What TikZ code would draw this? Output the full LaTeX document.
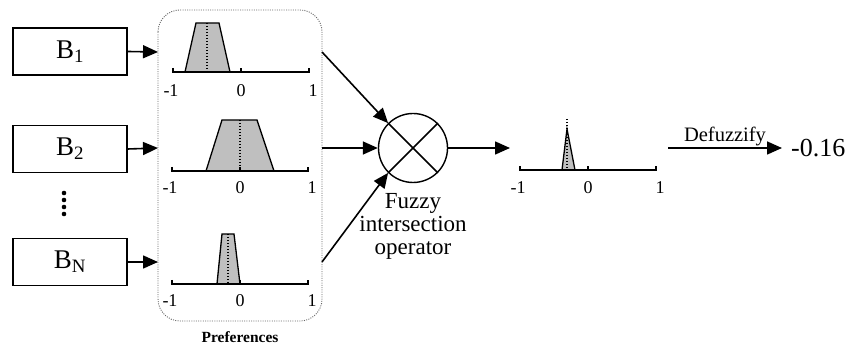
\documentclass[tikz,border=0pt]{standalone}
\usepackage{fontspec}
\setmainfont{Liberation Serif}
\usetikzlibrary{arrows.meta}

% x0 = position of -1, y = axis height, ly = label height
\newcommand\fzaxis[3]{%
  \draw[axisline] (#1,{#2-4}) -- (#1,#2) -- ({#1+136},#2) -- ({#1+136},{#2-4});
  \draw[axisline] ({#1+68},#2) -- ({#1+68},{#2-4});
  \node[ticklabel] at ({#1-2},#3) {-1};
  \node[ticklabel] at ({#1+68},#3) {0};
  \node[ticklabel] at ({#1+140},#3) {1};
}

\begin{document}
\begin{tikzpicture}[x=1pt,y=-1pt,
  inbox/.style={draw, line width=1.4pt, minimum width=114pt, minimum height=47pt,
    inner sep=0pt, font=\fontsize{27}{30}\selectfont},
  flow/.style={line width=1.6pt, -{Triangle[length=15pt,width=13pt]}},
  axisline/.style={line width=1.6pt},
  mf/.style={draw, fill=black!25, line width=1.3pt, line join=miter},
  peak/.style={line width=1.3pt, dash pattern=on 1.3pt off 1.7pt},
  ticklabel/.style={inner sep=0pt, font=\fontsize{18}{20}\selectfont},
  frame/.style={draw=black!60, line width=0.9pt, dash pattern=on 1pt off 1.3pt, rounded corners=22pt}
]
\useasboundingbox (0,0) rectangle (846,352);

% input boxes
\node[inbox] (b1) at (70,51.5) {B\textsubscript{1}};
\node[inbox] (b2) at (70,149) {B\textsubscript{2}};
\node[inbox] (bn) at (70,262) {B\textsubscript{N}};
\foreach \yy in {193,200,207,214} \fill (64,\yy) circle (2.3pt);

% preference panel frame
\draw[frame] (158,10) rectangle (322,321);
\coordinate (in1) at (158,52);
\coordinate (in2) at (158,148);
\coordinate (inn) at (158,262);
\coordinate (out1) at (322,52);
\coordinate (out2) at (322,148);
\coordinate (outn) at (322,262);

% membership functions of the preferences
\draw[mf] (185,72) -- (196,23) -- (219,23) -- (230,72) -- cycle;
\draw[peak] (207,23) -- (207,72);
\fzaxis{173}{72}{91}

\draw[mf] (206,171) -- (222,120) -- (257,120) -- (274,171) -- cycle;
\draw[peak] (240,120) -- (240,171);
\fzaxis{172}{171}{188}

\draw[mf] (217,284) -- (222,234) -- (234,234) -- (240,284) -- cycle;
\draw[peak] (228,234) -- (228,284);
\fzaxis{172}{284}{301}

\node[font=\bfseries\fontsize{15.5}{18}\selectfont] (pref) at (240,337) {Preferences};

% intersection operator
\node[draw, circle, line width=1.4pt, minimum size=69pt, inner sep=0pt] (op) at (413,148) {};
\draw[line width=1.6pt] (op.45) -- (op.225) (op.135) -- (op.315);
\node[align=center, font=\fontsize{23}{23}\selectfont, anchor=north, inner sep=0pt] (oplabel) at (413,193)
  {Fuzzy\\intersection\\operator};

% resulting fuzzy set
\draw[mf] (562,170) -- (567,129) -- (575,170) -- cycle;
\draw[peak] (567,119) -- (567,170);
\fzaxis{520}{170}{188}
\coordinate (res) at (510,148);
\coordinate (dfa) at (668,148);
\coordinate (dfb) at (782,148);
\node[font=\fontsize{26}{28}\selectfont, anchor=west, inner sep=0pt] (val) at (791,148) {-0.16};

% connectors
\draw[flow] (b1.east) -- (in1);
\draw[flow] (b2.east) -- (in2);
\draw[flow] (bn.east) -- (inn);
\draw[flow] (out1) -- (op.135);
\draw[flow] (out2) -- (op.west);
\draw[flow] (outn) -- (op.225);
\draw[flow] (op.east) -- (res);
\draw[flow] (dfa) -- node[above, inner sep=1pt, font=\fontsize{20.5}{23}\selectfont] {Defuzzify} (dfb);
\end{tikzpicture}
\end{document}
